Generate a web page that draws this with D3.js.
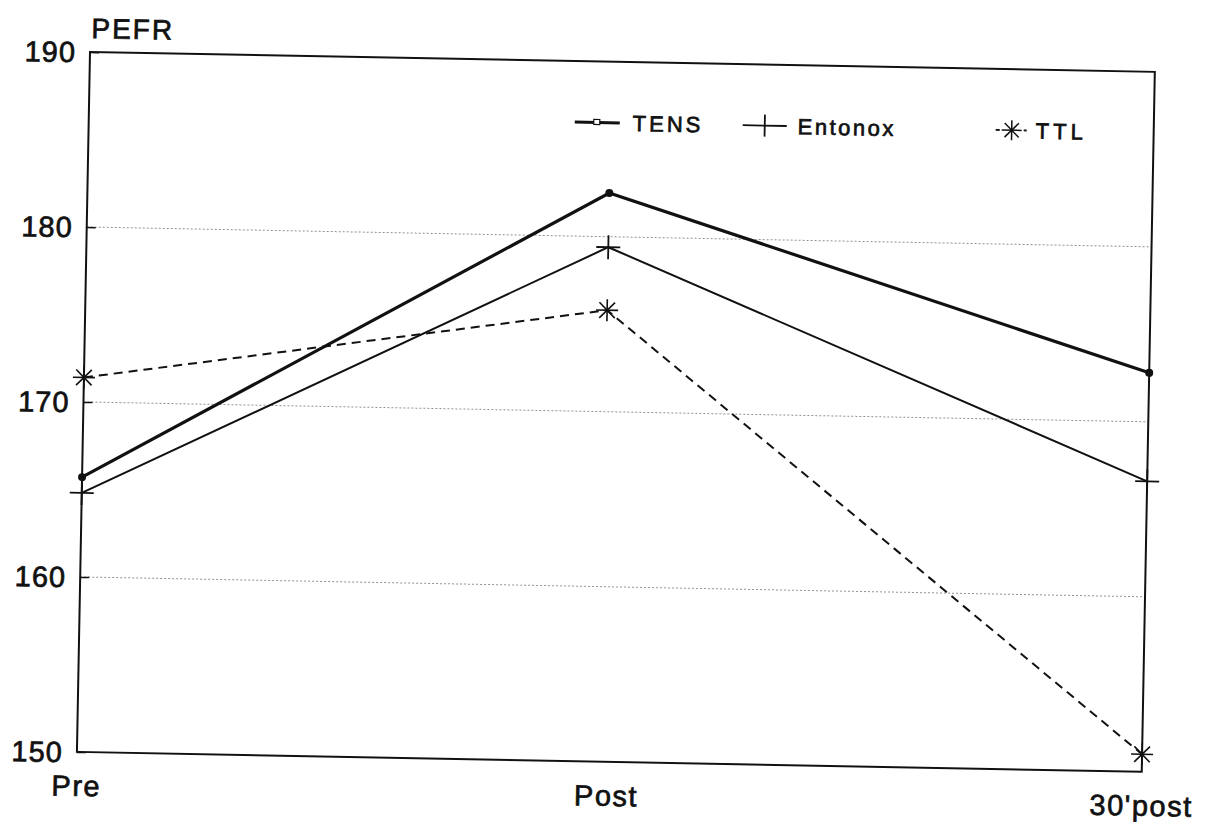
<!DOCTYPE html>
<html><head><meta charset="utf-8">
<script src="https://cdn.jsdelivr.net/npm/d3@7"></script>
<style>
html,body{margin:0;padding:0;background:#fff;}
text{font-family:"Liberation Sans",Arial,sans-serif;fill:#111;stroke:#111;stroke-width:0.7px;}
</style></head>
<body>
<svg id="chart" width="1208" height="828"></svg>
<script>
const categories = ["Pre", "Post", "30'post"];
const tensValues = [165.7, 182.5, 172.8];
const entonoxValues = [164.8, 179.4, 166.6];
const ttlValues = [171.4, 175.8, 151.0];
const yTicks = [150, 160, 170, 180, 190];
const gridTicks = [160, 170, 180];
const yLabel = "PEFR";
const seriesNames = ["TENS", "Entonox", "TTL"];

const W = 1065, H = 700;
const svg = d3.select("#chart");
const g = svg.append("g").attr("transform", "translate(90,52) rotate(1.07)");

const x = d3.scaleOrdinal().domain(categories).range([0, W * 0.49, W]);
const y = d3.scaleLinear().domain([150, 190]).range([H, 0]);

// gridlines
g.append("g").selectAll("line").data(gridTicks).join("line")
  .attr("x1", 0).attr("x2", W).attr("y1", d => y(d)).attr("y2", d => y(d))
  .attr("stroke", "#777").attr("stroke-width", 1).attr("stroke-dasharray", "2,2").attr("opacity", 0.8);

// left axis with inward ticks
const yAxis = d3.axisRight(y).tickValues(yTicks).tickSize(9).tickFormat("");
const ya = g.append("g").call(yAxis);
ya.select(".domain").remove();
ya.selectAll("line").attr("stroke", "#111").attr("stroke-width", 1.5);
// y tick labels
g.append("g").selectAll("text").data(yTicks).join("text")
  .attr("x", -14).attr("y", d => y(d)).attr("dy", "0.36em")
  .attr("text-anchor", "end").attr("font-size", 29).attr("letter-spacing", 1).text(d => d);

// frame
g.append("rect").attr("x", 0).attr("y", 0).attr("width", W).attr("height", H)
  .attr("fill", "none").attr("stroke", "#111").attr("stroke-width", 2);

// x labels
g.append("g").selectAll("text").data(categories).join("text")
  .attr("x", d => x(d)).attr("y", H + 44).attr("text-anchor", "middle")
  .attr("dx", (d, i) => i === 1 ? 8 : 0)
  .attr("font-size", 29).attr("letter-spacing", 1.5).text(d => d);

// y label
g.append("text").attr("x", 1).attr("y", -14).attr("font-size", 28).attr("letter-spacing", 2).text(yLabel);

const line = d3.line().x((d, i) => x(categories[i])).y(d => y(d));

function plus(sel, s) {
  sel.append("line").attr("x1", -s).attr("x2", s).attr("y1", 0).attr("y2", 0);
  sel.append("line").attr("x1", 0).attr("x2", 0).attr("y1", -s).attr("y2", s);
}
function star(sel, s) {
  [0, 45, 90, 135].forEach(a => {
    const r = a * Math.PI / 180;
    sel.append("line").attr("x1", -s * Math.cos(r)).attr("y1", -s * Math.sin(r))
      .attr("x2", s * Math.cos(r)).attr("y2", s * Math.sin(r));
  });
}

// TENS
g.append("path").datum(tensValues).attr("d", line).attr("fill", "none")
  .attr("stroke", "#111").attr("stroke-width", 3.2);
g.append("g").selectAll("circle").data(tensValues).join("circle")
  .attr("cx", (d, i) => x(categories[i])).attr("cy", d => y(d)).attr("r", 4).attr("fill", "#111");

// Entonox
g.append("path").datum(entonoxValues).attr("d", line).attr("fill", "none")
  .attr("stroke", "#111").attr("stroke-width", 2);
entonoxValues.forEach((d, i) => {
  const m = g.append("g").attr("transform", `translate(${x(categories[i])},${y(d)})`)
    .attr("stroke", "#111").attr("stroke-width", 1.8);
  plus(m, 12);
});

// TTL
g.append("path").datum(ttlValues).attr("d", line).attr("fill", "none")
  .attr("stroke", "#111").attr("stroke-width", 2).attr("stroke-dasharray", "9,6");
ttlValues.forEach((d, i) => {
  const m = g.append("g").attr("transform", `translate(${x(categories[i])},${y(d)})`)
    .attr("stroke", "#111").attr("stroke-width", 1.6);
  star(m, 11);
});

// legend
const leg = g.append("g").attr("transform", "translate(486,61)");
const fs = 22;
const l1 = leg.append("g");
l1.append("line").attr("x1", 0).attr("x2", 45).attr("stroke", "#111").attr("stroke-width", 3);
l1.append("rect").attr("x", 19).attr("y", -3).attr("width", 6).attr("height", 5).attr("fill", "#fff").attr("stroke", "#111").attr("stroke-width", 1.2);
l1.append("text").attr("x", 58).attr("dy", "0.36em").attr("font-size", fs).attr("letter-spacing", 3).text(seriesNames[0]);

const l2 = leg.append("g").attr("transform", "translate(168,0)");
l2.append("line").attr("x1", 0).attr("x2", 44).attr("stroke", "#111").attr("stroke-width", 1.8);
l2.append("line").attr("x1", 22).attr("x2", 22).attr("y1", -11).attr("y2", 11).attr("stroke", "#111").attr("stroke-width", 1.8);
l2.append("text").attr("x", 55).attr("dy", "0.36em").attr("font-size", fs).attr("letter-spacing", 2.5).text(seriesNames[1]);

const l3 = leg.append("g").attr("transform", "translate(425,0)");
l3.append("line").attr("x1", -4).attr("x2", 0).attr("stroke", "#111").attr("stroke-width", 1.8);
l3.append("line").attr("x1", 24).attr("x2", 27).attr("stroke", "#111").attr("stroke-width", 1.8);
const sm = l3.append("g").attr("transform", "translate(12,0)").attr("stroke", "#111").attr("stroke-width", 1.5);
star(sm, 10);
l3.append("text").attr("x", 36).attr("dy", "0.36em").attr("font-size", fs).attr("letter-spacing", 4).text(seriesNames[2]);
</script>
</body></html>
